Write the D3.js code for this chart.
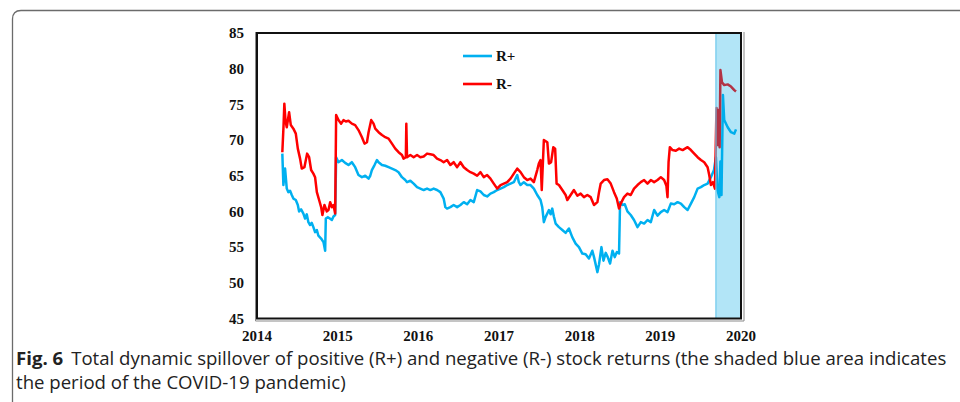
<!DOCTYPE html>
<html>
<head>
<meta charset="UTF-8">
<title>Total dynamic spillover</title>
<script src="https://cdn.jsdelivr.net/npm/d3@7"></script>
<style>
  body { margin: 0; background: #fff; }
  svg { display: block; }
  .tick-label { font-family: "Liberation Serif", "DejaVu Serif", serif; font-weight: bold; font-size: 15px; fill: #111; }
  .caption { font-family: "Open Sans", "Noto Sans", sans-serif; font-size: 18.6px; fill: #222; }
</style>
</head>
<body>
<svg id="chart" width="960" height="402"></svg>
<script>
// decimal year, spillover index (%)
var rPlus = [
  [2014.314, 68.1], [2014.327, 63.7], [2014.348, 66.0], [2014.369, 63.2], [2014.389, 62.7],
  [2014.410, 62.9], [2014.431, 62.3], [2014.451, 61.8], [2014.481, 61.6], [2014.506, 60.9],
  [2014.522, 60.0], [2014.547, 60.3], [2014.575, 59.7], [2014.596, 59.0], [2014.617, 59.6],
  [2014.637, 58.5], [2014.658, 58.1], [2014.679, 58.4], [2014.699, 57.8], [2014.720, 57.1],
  [2014.742, 57.4], [2014.761, 56.6], [2014.795, 56.2], [2014.824, 55.7], [2014.845, 54.5],
  [2014.853, 59.0], [2014.878, 59.2], [2014.903, 59.0], [2014.928, 58.8], [2014.948, 59.3],
  [2014.969, 59.5], [2014.981, 67.6], [2015.010, 66.9], [2015.052, 67.2], [2015.093, 66.8],
  [2015.134, 66.5], [2015.176, 66.9], [2015.217, 66.2], [2015.258, 65.1], [2015.301, 64.8],
  [2015.342, 65.0], [2015.383, 64.6], [2015.404, 65.0], [2015.424, 65.8], [2015.457, 66.5],
  [2015.487, 67.2], [2015.507, 66.9], [2015.549, 66.5], [2015.590, 66.4], [2015.631, 66.2],
  [2015.673, 66.0], [2015.714, 65.8], [2015.755, 65.5], [2015.797, 64.8], [2015.838, 64.4],
  [2015.860, 64.1], [2015.901, 64.3], [2015.942, 63.9], [2015.984, 63.4], [2016.025, 63.2],
  [2016.066, 63.0], [2016.108, 63.2], [2016.149, 63.0], [2016.190, 63.2], [2016.232, 63.0],
  [2016.273, 62.7], [2016.314, 61.8], [2016.335, 60.6], [2016.356, 60.4], [2016.397, 60.6],
  [2016.438, 60.9], [2016.481, 60.6], [2016.522, 60.9], [2016.563, 61.3], [2016.605, 61.0],
  [2016.646, 61.6], [2016.687, 61.3], [2016.729, 63.0], [2016.770, 62.8], [2016.811, 62.3],
  [2016.853, 62.1], [2016.894, 62.5], [2016.935, 62.7], [2016.978, 63.0], [2017.019, 63.2],
  [2017.060, 63.4], [2017.102, 63.7], [2017.143, 63.9], [2017.184, 64.1], [2017.226, 65.1],
  [2017.246, 64.1], [2017.267, 63.7], [2017.308, 64.1], [2017.350, 63.7], [2017.391, 63.7],
  [2017.432, 63.2], [2017.474, 62.3], [2017.515, 61.6], [2017.536, 60.6], [2017.556, 58.5],
  [2017.577, 59.2], [2017.619, 60.2], [2017.640, 59.6], [2017.660, 60.4], [2017.680, 59.3],
  [2017.702, 58.3], [2017.743, 57.8], [2017.785, 57.4], [2017.826, 57.0], [2017.867, 57.6],
  [2017.908, 56.4], [2017.950, 55.5], [2017.991, 55.0], [2018.033, 54.1], [2018.074, 54.0],
  [2018.115, 53.4], [2018.157, 54.5], [2018.178, 53.6], [2018.220, 51.5], [2018.240, 52.6],
  [2018.270, 55.0], [2018.295, 53.1], [2018.323, 54.2], [2018.348, 53.6], [2018.377, 52.7],
  [2018.407, 54.5], [2018.435, 53.6], [2018.460, 54.3], [2018.488, 54.1], [2018.501, 61.3],
  [2018.530, 60.9], [2018.559, 61.0], [2018.592, 60.0], [2018.633, 59.5], [2018.674, 58.8],
  [2018.717, 57.8], [2018.758, 58.5], [2018.799, 58.3], [2018.841, 58.8], [2018.882, 58.5],
  [2018.923, 60.2], [2018.965, 59.4], [2019.006, 59.9], [2019.047, 60.2], [2019.089, 59.9],
  [2019.130, 61.1], [2019.172, 61.0], [2019.214, 61.3], [2019.255, 61.1], [2019.296, 60.6],
  [2019.338, 60.2], [2019.379, 61.1], [2019.420, 62.0], [2019.462, 63.2], [2019.503, 63.4],
  [2019.544, 63.7], [2019.586, 63.9], [2019.627, 64.8], [2019.665, 65.8], [2019.689, 67.6],
  [2019.708, 63.0], [2019.731, 62.0], [2019.745, 67.0], [2019.758, 62.3], [2019.776, 76.3],
  [2019.792, 72.8], [2019.835, 71.8], [2019.876, 71.1], [2019.917, 70.9], [2019.938, 71.5]
];

var rMinus = [
  [2014.314, 68.3], [2014.329, 72.0], [2014.339, 75.1], [2014.354, 72.6], [2014.369, 71.8],
  [2014.398, 73.9], [2014.419, 72.1], [2014.451, 71.6], [2014.481, 70.9], [2014.506, 68.8],
  [2014.534, 67.4], [2014.555, 66.0], [2014.588, 66.2], [2014.621, 68.1], [2014.646, 67.6],
  [2014.671, 65.8], [2014.699, 65.3], [2014.720, 64.8], [2014.742, 62.7], [2014.770, 61.6],
  [2014.795, 60.6], [2014.811, 59.5], [2014.836, 60.9], [2014.866, 60.0], [2014.886, 60.2],
  [2014.907, 61.3], [2014.928, 60.6], [2014.948, 60.9], [2014.969, 59.7], [2014.981, 73.5],
  [2015.010, 72.8], [2015.043, 72.3], [2015.072, 72.8], [2015.102, 72.6], [2015.134, 72.7],
  [2015.176, 72.3], [2015.217, 72.1], [2015.258, 71.4], [2015.301, 70.4], [2015.333, 69.5],
  [2015.363, 69.7], [2015.383, 71.1], [2015.416, 72.8], [2015.445, 72.3], [2015.466, 71.6],
  [2015.507, 71.1], [2015.549, 70.7], [2015.590, 70.4], [2015.631, 70.2], [2015.673, 69.5],
  [2015.714, 68.8], [2015.755, 68.3], [2015.797, 67.9], [2015.817, 67.4], [2015.845, 67.6],
  [2015.851, 72.3], [2015.860, 67.6], [2015.901, 67.9], [2015.942, 67.6], [2015.984, 67.9],
  [2016.025, 67.6], [2016.066, 67.7], [2016.108, 68.1], [2016.149, 68.0], [2016.190, 67.9],
  [2016.232, 67.4], [2016.273, 67.2], [2016.314, 66.9], [2016.356, 67.2], [2016.397, 66.5],
  [2016.438, 66.9], [2016.481, 66.2], [2016.522, 66.9], [2016.563, 66.2], [2016.605, 65.8],
  [2016.646, 65.5], [2016.687, 65.3], [2016.729, 65.0], [2016.770, 65.5], [2016.811, 64.8],
  [2016.853, 65.1], [2016.894, 64.6], [2016.935, 63.9], [2016.978, 63.2], [2017.019, 63.7],
  [2017.060, 63.9], [2017.102, 64.1], [2017.143, 64.6], [2017.184, 65.3], [2017.226, 66.0],
  [2017.267, 65.5], [2017.308, 64.8], [2017.350, 64.4], [2017.391, 64.6], [2017.432, 64.1],
  [2017.474, 65.8], [2017.494, 66.7], [2017.515, 67.2], [2017.530, 63.0], [2017.556, 70.0],
  [2017.599, 69.7], [2017.619, 66.7], [2017.646, 66.9], [2017.673, 69.0], [2017.696, 68.8],
  [2017.714, 63.9], [2017.743, 63.7], [2017.785, 63.0], [2017.826, 62.3], [2017.847, 61.6],
  [2017.888, 62.3], [2017.929, 63.0], [2017.971, 62.2], [2018.012, 62.5], [2018.053, 62.0],
  [2018.095, 62.3], [2018.137, 62.0], [2018.178, 60.9], [2018.220, 61.3], [2018.240, 62.7],
  [2018.261, 63.9], [2018.302, 64.4], [2018.344, 64.5], [2018.385, 63.9], [2018.426, 62.7],
  [2018.460, 61.8], [2018.488, 60.4], [2018.509, 61.1], [2018.550, 62.0], [2018.592, 62.5],
  [2018.633, 62.3], [2018.674, 63.2], [2018.717, 63.7], [2018.758, 64.1], [2018.799, 64.4],
  [2018.841, 63.9], [2018.882, 64.4], [2018.923, 64.1], [2018.965, 64.4], [2019.006, 64.8],
  [2019.047, 64.4], [2019.075, 63.6], [2019.089, 62.0], [2019.102, 66.9], [2019.118, 69.0],
  [2019.151, 68.6], [2019.192, 68.5], [2019.233, 68.8], [2019.276, 68.6], [2019.338, 69.0],
  [2019.379, 68.6], [2019.420, 68.1], [2019.462, 67.6], [2019.503, 67.2], [2019.544, 66.9],
  [2019.586, 66.2], [2019.606, 65.1], [2019.627, 63.7], [2019.652, 64.1], [2019.677, 63.2],
  [2019.696, 74.5], [2019.708, 69.3], [2019.720, 74.2], [2019.735, 69.0], [2019.745, 79.8],
  [2019.764, 78.1], [2019.792, 77.7], [2019.835, 77.8], [2019.876, 77.5], [2019.917, 77.0],
  [2019.938, 76.8]
];

var xTicks = [2014, 2015, 2016, 2017, 2018, 2019, 2020];
var yTicks = [45, 50, 55, 60, 65, 70, 75, 80, 85];
var covidPeriod = [2019.689, 2020];
var legendItems = [
  { name: "R+", color: "#00b0f0" },
  { name: "R-", color: "#ff0000" }
];

var svg = d3.select("#chart");

// outer figure frame (rounded corner, runs off the right/bottom)
svg.append("path")
  .attr("d", "M12.5,402 L12.5,19 Q12.5,10.5 21,10.5 L962,10.5")
  .attr("fill", "none")
  .attr("stroke", "#6b6b6b")
  .attr("stroke-width", 1.3);

var x = d3.scaleLinear().domain([2014, 2020]).range([257, 741]);
var y = d3.scaleLinear().domain([45, 85]).range([318.5, 33]);

var line = d3.line()
  .x(function(d) { return x(d[0]); })
  .y(function(d) { return y(d[1]); });

svg.append("path")
  .datum(rPlus)
  .attr("d", line)
  .attr("fill", "none")
  .attr("stroke", "#00b0f0")
  .attr("stroke-width", 2.5)
  .attr("stroke-linejoin", "round");

svg.append("path")
  .datum(rMinus)
  .attr("d", line)
  .attr("fill", "none")
  .attr("stroke", "#ff0000")
  .attr("stroke-width", 2.5)
  .attr("stroke-linejoin", "round");

// covid shading on top of the lines
svg.append("rect")
  .attr("x", x(covidPeriod[0]))
  .attr("y", y(85))
  .attr("width", x(covidPeriod[1]) - x(covidPeriod[0]))
  .attr("height", y(45) - y(85))
  .attr("fill", "rgb(0,170,230)")
  .attr("fill-opacity", 0.3);
svg.append("line")
  .attr("x1", x(covidPeriod[0])).attr("x2", x(covidPeriod[0]))
  .attr("y1", y(85)).attr("y2", y(45))
  .attr("stroke", "#6fc8ec")
  .attr("stroke-width", 1.2);

// plot frame: gray shadow + black border
svg.append("path")
  .attr("d", "M255.5," + (y(85) - 1) + " L255.5,321 L744,321 L744," + (y(85) - 1))
  .attr("fill", "none")
  .attr("stroke", "#8a8a8a")
  .attr("stroke-width", 1);
svg.append("rect")
  .attr("x", x(2014))
  .attr("y", y(85))
  .attr("width", x(2020) - x(2014))
  .attr("height", y(45) - y(85))
  .attr("fill", "none")
  .attr("stroke", "#111")
  .attr("stroke-width", 2);

// tick labels
svg.append("g").selectAll("text")
  .data(yTicks)
  .join("text")
  .attr("class", "tick-label")
  .attr("x", 244)
  .attr("y", function(d) { return y(d); })
  .attr("dy", "0.35em")
  .attr("text-anchor", "end")
  .text(function(d) { return d; });

svg.append("g").selectAll("text")
  .data(xTicks)
  .join("text")
  .attr("class", "tick-label")
  .attr("x", function(d) { return x(d); })
  .attr("y", 341)
  .attr("text-anchor", "middle")
  .text(function(d) { return d; });

// legend
var legend = svg.append("g").selectAll("g")
  .data(legendItems)
  .join("g")
  .attr("transform", function(d, i) { return "translate(463," + (56 + i * 28) + ")"; });
legend.append("line")
  .attr("x1", 0).attr("x2", 29)
  .attr("stroke", function(d) { return d.color; })
  .attr("stroke-width", 2.6);
legend.append("text")
  .attr("class", "tick-label")
  .attr("x", 33)
  .attr("dy", "0.35em")
  .text(function(d) { return d.name; });

// caption
var cap = svg.append("text").attr("class", "caption").attr("x", 16).attr("y", 365);
cap.append("tspan").attr("font-weight", "bold").text("Fig. 6");
cap.append("tspan").attr("dx", 8).text("Total dynamic spillover of positive (R+) and negative (R-) stock returns (the shaded blue area indicates");
svg.append("text").attr("class", "caption").attr("x", 16).attr("y", 389)
  .text("the period of the COVID-19 pandemic)");
</script>
</body>
</html>
